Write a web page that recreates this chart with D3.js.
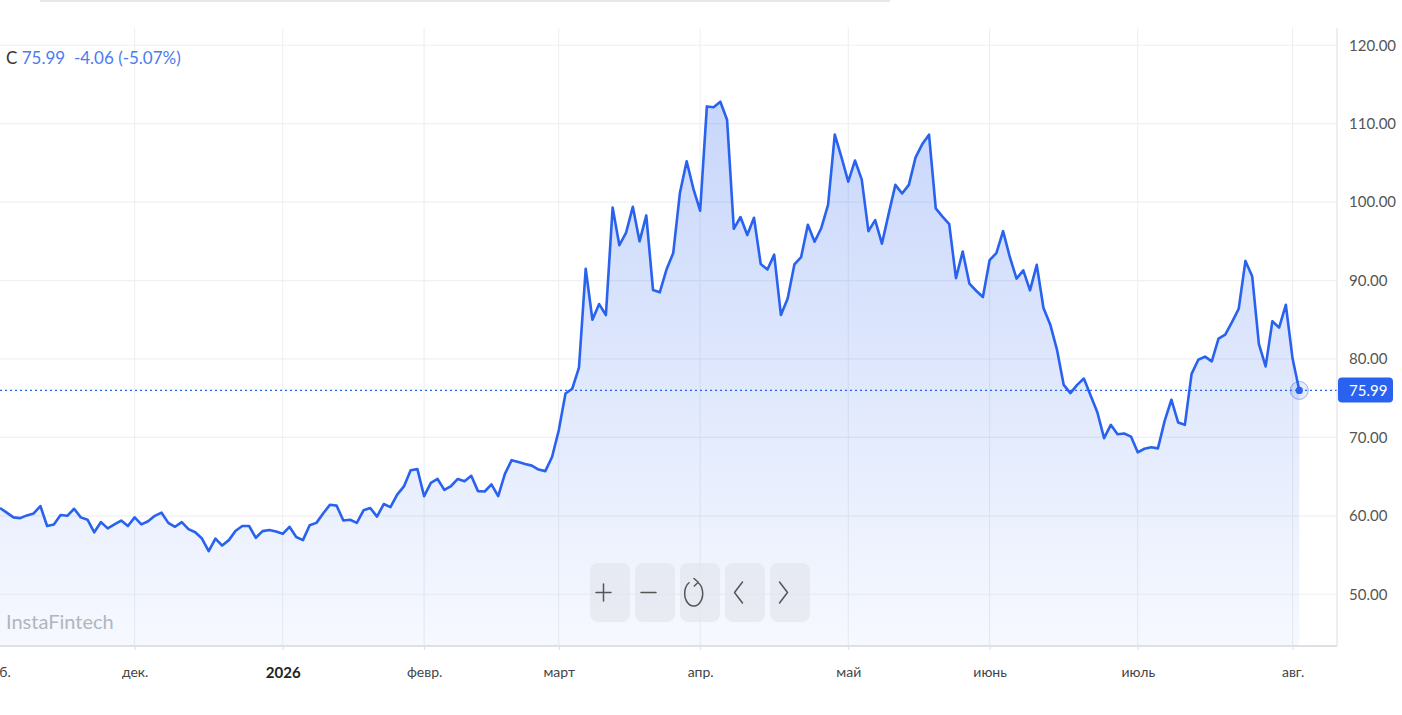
<!DOCTYPE html>
<html>
<head>
<meta charset="utf-8">
<script src="https://cdn.jsdelivr.net/npm/d3@7"></script>
<style>
    body { margin: 0; background: #fff; }
    svg { display: block; font-family: Lato, "Open Sans", sans-serif; }
</style>
</head>
<body>
<svg id="graph" width="1402" height="715"></svg>
<script>
// daily closes (left -> right)
const closes = [
    61.0, 60.4, 59.8, 59.7, 60.05, 60.3, 61.25, 58.7, 58.9, 60.1,
    60.0, 60.9, 59.8, 59.5, 57.9, 59.2, 58.4, 58.9, 59.4, 58.7,
    59.8, 58.9, 59.3, 60.0, 60.4, 59.1, 58.6, 59.2, 58.3, 57.9,
    57.1, 55.5, 57.1, 56.2, 56.9, 58.1, 58.7, 58.7, 57.2, 58.05,
    58.2, 58.0, 57.7, 58.6, 57.3, 56.9, 58.8, 59.1, 60.3, 61.4,
    61.3, 59.4, 59.5, 59.1, 60.7, 61.0, 59.9, 61.5, 61.1, 62.7,
    63.75, 65.8, 65.95, 62.5, 64.2, 64.7, 63.3, 63.8, 64.7, 64.4,
    65.1, 63.15, 63.1, 64.0, 62.5, 65.35, 67.1, 66.85, 66.6, 66.4,
    65.9, 65.7, 67.5, 70.9, 75.6, 76.2, 78.9, 91.5, 85.0, 87.0,
    85.6, 99.3, 94.5, 96.1, 99.4, 95.0, 98.3, 88.8, 88.5, 91.4,
    93.5, 101.2, 105.2, 101.7, 98.9, 112.2, 112.1, 112.8, 110.5, 96.6,
    98.1, 95.8, 98.0, 92.1, 91.4, 93.3, 85.6, 87.7, 92.05, 93.0,
    97.1, 94.95, 96.7, 99.65, 108.6, 105.7, 102.6, 105.3, 102.9, 96.3,
    97.7, 94.7, 98.5, 102.2, 101.1, 102.2, 105.7, 107.4, 108.6, 99.2,
    98.15, 97.2, 90.3, 93.7, 89.6, 88.7, 87.9, 92.6, 93.5, 96.3,
    93.0, 90.25, 91.3, 88.75, 92.0, 86.5, 84.4, 81.2, 76.7, 75.65,
    76.7, 77.5, 75.35, 73.2, 69.9, 71.6, 70.4, 70.5, 70.1, 68.1,
    68.55, 68.75, 68.6, 72.1, 74.8, 71.9, 71.6, 78.1, 79.9, 80.3,
    79.7, 82.6, 83.1, 84.7, 86.4, 92.5, 90.55, 81.9, 79.05, 84.8,
    84.0, 86.9, 80.05, 75.99
];

const monthLabels = ["нояб.", "дек.", "2026", "февр.", "март", "апр.", "май", "июнь", "июль", "авг."];
const monthIdx = [-1, 20, 42, 63, 83, 104, 126, 147, 169, 192];   // index of first session of month
const yTicks = [50, 60, 70, 80, 90, 100, 110, 120];
const yDomain = [43.4, 122.2];

const lastClose = closes[closes.length - 1];
const prevClose = closes[closes.length - 2];
const change = lastClose - prevClose;

const plot = { left: 0, right: 1337, top: 28, bottom: 646 };
const blue = "#2962ee";

const svg = d3.select("#graph");

const x = d3.scaleLinear()
    .domain([0, closes.length - 1])
    .range([0, 1299.3]);

const y = d3.scaleLinear()
    .domain(yDomain)
    .range([plot.bottom, plot.top]);

// faint header shadow at the very top
svg.append("line")
    .attr("x1", 40).attr("x2", 890)
    .attr("y1", 1).attr("y2", 1)
    .attr("stroke", "#e6e7ea")
    .attr("stroke-width", 2);

// gradient for the area
const grad = svg.append("defs").append("linearGradient")
    .attr("id", "fillGrad")
    .attr("gradientUnits", "userSpaceOnUse")
    .attr("x1", 0).attr("x2", 0)
    .attr("y1", y(113)).attr("y2", plot.bottom);
grad.append("stop").attr("offset", "0%").attr("stop-color", blue).attr("stop-opacity", 0.26);
grad.append("stop").attr("offset", "100%").attr("stop-color", blue).attr("stop-opacity", 0.04);

// grid
svg.append("g")
    .selectAll("line")
    .data(yTicks)
    .enter().append("line")
    .attr("x1", plot.left).attr("x2", plot.right)
    .attr("y1", d => y(d)).attr("y2", d => y(d))
    .attr("stroke", "#eff0f2")
    .attr("stroke-width", 1.2);

svg.append("g")
    .selectAll("line")
    .data(monthIdx.filter(d => x(d) > 0))
    .enter().append("line")
    .attr("x1", d => x(d)).attr("x2", d => x(d))
    .attr("y1", plot.top).attr("y2", plot.bottom)
    .attr("stroke", "#eceef2")
    .attr("stroke-width", 1);

// area + line
const area = d3.area()
    .x((d, i) => x(i))
    .y0(plot.bottom)
    .y1(d => y(d));

svg.append("path")
    .datum(closes)
    .attr("d", area)
    .attr("fill", "url(#fillGrad)");

const line = d3.line()
    .x((d, i) => x(i))
    .y(d => y(d));

svg.append("path")
    .datum(closes)
    .attr("d", line)
    .attr("fill", "none")
    .attr("stroke", blue)
    .attr("stroke-width", 2.6)
    .attr("stroke-linejoin", "round");

// last price dotted line
svg.append("line")
    .attr("x1", plot.left).attr("x2", plot.right)
    .attr("y1", y(lastClose)).attr("y2", y(lastClose))
    .attr("stroke", blue)
    .attr("stroke-width", 1.4)
    .attr("stroke-dasharray", "2,3");

// end marker
const lx = x(closes.length - 1), ly = y(lastClose);
svg.append("circle")
    .attr("cx", lx).attr("cy", ly).attr("r", 9)
    .attr("fill", blue).attr("fill-opacity", 0.12)
    .attr("stroke", blue).attr("stroke-opacity", 0.45)
    .attr("stroke-width", 1);
svg.append("circle")
    .attr("cx", lx).attr("cy", ly).attr("r", 3.6)
    .attr("fill", blue);

// axes
const xAxis = d3.axisBottom(x)
    .tickValues(monthIdx)
    .tickSize(4)
    .tickPadding(17)
    .tickFormat((d, i) => monthLabels[i]);

const gx = svg.append("g")
    .attr("transform", `translate(0,${plot.bottom})`)
    .call(xAxis);
gx.select(".domain").remove();
gx.selectAll(".tick line").attr("stroke", "#d9dde3");
gx.selectAll(".tick text")
    .attr("font-family", "Lato, sans-serif")
    .attr("font-weight", (d, i) => monthLabels[i] === "2026" ? "bold" : "normal")
    .style("font-size", (d, i) => monthLabels[i] === "2026" ? "15px" : "14px")
    .attr("fill", (d, i) => monthLabels[i] === "2026" ? "#222" : "#444");

svg.append("line")
    .attr("x1", plot.left).attr("x2", plot.right)
    .attr("y1", plot.bottom).attr("y2", plot.bottom)
    .attr("stroke", "#dde1e6")
    .attr("stroke-width", 2);

const yAxis = d3.axisRight(y)
    .tickValues(yTicks)
    .tickSize(0)
    .tickPadding(12)
    .tickFormat(d3.format(".2f"));

const gy = svg.append("g")
    .attr("transform", `translate(${plot.right},0)`)
    .call(yAxis);
gy.select(".domain").remove();
gy.selectAll(".tick text")
    .attr("font-family", "Lato, sans-serif")
    .attr("font-size", 15)
    .attr("fill", "#555");

svg.append("line")
    .attr("x1", plot.right).attr("x2", plot.right)
    .attr("y1", plot.top).attr("y2", plot.bottom)
    .attr("stroke", "#d9dde3")
    .attr("stroke-width", 1);

// price label on the axis
svg.append("rect")
    .attr("x", plot.right + 1).attr("y", ly - 13)
    .attr("width", 55).attr("height", 25)
    .attr("rx", 4)
    .attr("fill", blue);
svg.append("text")
    .attr("x", plot.right + 12).attr("y", ly)
    .attr("dy", "0.35em")
    .attr("font-size", 15)
    .attr("fill", "#fff")
    .text(d3.format(".2f")(lastClose));

// legend top-left
const legend = svg.append("text")
    .attr("x", 6).attr("y", 64)
    .attr("font-size", 17)
    .attr("xml:space", "preserve");
legend.append("tspan").attr("fill", "#333").text("C ");
legend.append("tspan").attr("fill", "#4a7cf0")
    .text(`${lastClose.toFixed(2)}  ${change.toFixed(2)} (${(change / prevClose * 100).toFixed(2)}%)`);

// watermark
svg.append("text")
    .attr("x", 6).attr("y", 629)
    .attr("font-size", 20)
    .attr("fill", "#b1b5bd")
    .text("InstaFintech");

// zoom / scroll buttons
const buttons = ["plus", "minus", "reset", "left", "right"];
const bg = svg.append("g").selectAll("g")
    .data(buttons)
    .enter().append("g")
    .attr("transform", (d, i) => `translate(${590 + i * 45},563)`);

bg.append("rect")
    .attr("width", 40).attr("height", 59)
    .attr("rx", 8)
    .attr("fill", "#e3e6ec")
    .attr("fill-opacity", 0.7);

const icons = {
    plus: "M6,29.5 H21 M13.5,21 V38",
    minus: "M6,29.5 H21",
    reset: "M18,19.5 A9,12.5 0 1 1 9,19.8 M14,15.5 L18.3,19.3 L14.3,23",
    left: "M17.5,19 L9.5,29.5 L17.5,40",
    right: "M9.5,19 L17.5,29.5 L9.5,40"
};

bg.append("path")
    .attr("d", d => icons[d])
    .attr("fill", "none")
    .attr("stroke", "#555")
    .attr("stroke-width", 1.5)
    .attr("stroke-linecap", "round")
    .attr("stroke-linejoin", "round");
</script>
</body>
</html>
